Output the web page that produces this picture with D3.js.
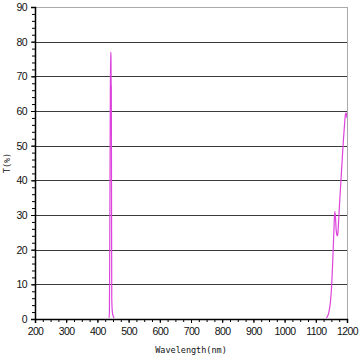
<!DOCTYPE html>
<html>
<head>
<meta charset="utf-8">
<script src="https://cdn.jsdelivr.net/npm/d3@7"></script>
<style>
  body { margin: 0; background: #fff; }
  svg { display: block; }
  .tick text { font-family: "Liberation Sans", Arial, sans-serif; font-size: 10.5px; letter-spacing: -0.6px; fill: #111; }
</style>
</head>
<body>
<svg id="chart"></svg>
<script>
const width = 360;
const height = 360;

// transmission curve
const wavelength = [200, 300, 400, 430, 437, 438.5, 440, 441.5, 442.5, 443.5, 444, 444.6, 445.2, 446, 448, 452, 456,
  600, 800, 1000, 1130, 1136, 1142, 1147, 1151, 1154, 1157, 1159, 1161, 1163, 1165, 1167, 1169, 1171, 1173, 1176,
  1180, 1184, 1188, 1192, 1195, 1197, 1199, 1200];
const transmission = [0, 0, 0, 0, 0, 2, 30, 66, 77, 76, 68, 67, 40, 6, 2, 0.5, 0,
  0, 0, 0, 0, 0.5, 2, 5, 10, 16, 23, 28, 31, 29.5, 26, 24.5, 24, 25, 28, 33,
  39, 45, 51, 56, 59, 59.5, 58.5, 58];
const xTicks = [200, 300, 400, 500, 600, 700, 800, 900, 1000, 1100, 1200];
const yTicks = [0, 10, 20, 30, 40, 50, 60, 70, 80, 90];

const margin = {top: 7, right: 13, bottom: 41, left: 35};
const innerW = width - margin.left - margin.right;
const innerH = height - margin.top - margin.bottom;

const svg = d3.select("#chart")
    .attr("width", width)
    .attr("height", height);

const g = svg.append("g")
    .attr("transform", "translate(" + margin.left + "," + margin.top + ")");

const x = d3.scaleLinear().domain([200, 1200]).range([0, innerW]);
const y = d3.scaleLinear().domain([0, 90]).range([innerH, 0]);

// keep the curve off the baseline
svg.append("defs").append("clipPath")
    .attr("id", "plot-clip")
  .append("rect")
    .attr("x", 0).attr("y", -2)
    .attr("width", innerW).attr("height", innerH + 1);

// gridlines
g.selectAll(".grid")
    .data(yTicks.filter(d => d > 0))
  .enter().append("line")
    .attr("class", "grid")
    .attr("x1", 0)
    .attr("x2", innerW)
    .attr("y1", d => Math.round(y(d)) + 0.5)
    .attr("y2", d => Math.round(y(d)) + 0.5)
    .attr("stroke", d => d === 90 ? "#aaa" : "#3a3a3a")
    .attr("stroke-width", 1);

// right border
g.append("line")
    .attr("x1", innerW + 0.5).attr("x2", innerW + 0.5)
    .attr("y1", 0).attr("y2", innerH)
    .attr("stroke", "#aaa");

const line = d3.line()
    .x((d, i) => x(wavelength[i]))
    .y(d => y(d))
    .curve(d3.curveMonotoneX);

g.append("path")
    .datum(transmission)
    .attr("d", line)
    .attr("clip-path", "url(#plot-clip)")
    .attr("fill", "none")
    .attr("stroke", "#dd44dd")
    .attr("stroke-width", 1.2);

// axes with minor ticks
const xMinor = d3.range(200, 1201, 25);
const yMinor = d3.range(0, 91, 2);

const xAxis = g.append("g")
    .attr("transform", "translate(0," + innerH + ")");
xAxis.call(d3.axisBottom(x).tickValues(xMinor).tickSize(3).tickFormat(""));
xAxis.call(g2 => g2.select(".domain").remove());
g.append("g")
    .attr("transform", "translate(0," + innerH + ")")
    .call(d3.axisBottom(x).tickValues(xTicks).tickSize(4).tickPadding(5).tickFormat(d3.format("d")));

const yAxis = g.append("g");
yAxis.call(d3.axisLeft(y).tickValues(yMinor).tickSize(3).tickFormat(""));
yAxis.call(g2 => g2.select(".domain").remove());
g.append("g")
    .call(d3.axisLeft(y).tickValues(yTicks).tickSize(4).tickPadding(4));

g.selectAll(".domain").attr("stroke", "#000").attr("stroke-width", 1.5);
g.selectAll(".tick line").attr("stroke", "#000");

// axis titles
svg.append("text")
    .attr("x", margin.left + innerW / 2 + 0)
    .attr("y", 353)
    .attr("text-anchor", "middle")
    .attr("font-family", "'DejaVu Sans Mono', 'Liberation Mono', monospace")
    .attr("font-size", 8.5)
    .attr("fill", "#111")
    .text("Wavelength(nm)");

svg.append("text")
    .attr("transform", "translate(10," + (margin.top + innerH / 2) + ") rotate(-90)")
    .attr("text-anchor", "middle")
    .attr("font-family", "'DejaVu Sans Mono', 'Liberation Mono', monospace")
    .attr("font-size", 8.5)
    .attr("fill", "#111")
    .text("T(%)");
</script>
</body>
</html>
